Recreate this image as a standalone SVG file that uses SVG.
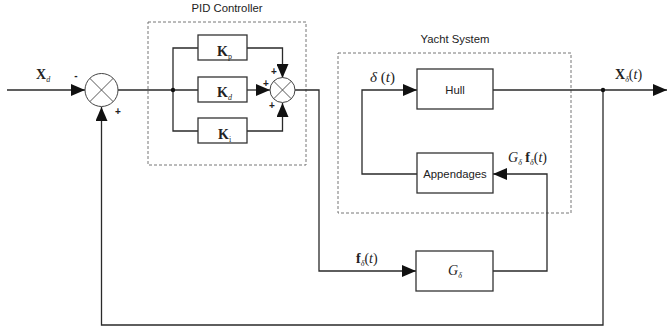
<svg xmlns="http://www.w3.org/2000/svg" width="667" height="331" viewBox="0 0 667 331">
<style>
.ln{fill:none;stroke:#2a2a2a;stroke-width:1.3}
.bx{fill:#fff;stroke:#333;stroke-width:1.3}
.dash{fill:none;stroke:#666;stroke-width:0.9;stroke-dasharray:3,2}
.sum{fill:#fff;stroke:#444;stroke-width:1}
.x{stroke:#444;stroke-width:0.9}
.t{font-family:"Liberation Sans",Arial,sans-serif;font-size:11.3px;fill:#222}
.m{font-family:"Liberation Serif","Times New Roman",serif;fill:#222}
.b{font-weight:bold}
.i{font-style:italic}
.sg{font-family:"Liberation Sans",Arial,sans-serif;font-size:10px;font-weight:bold;fill:#222}
</style>
<defs>
<marker id="ah" markerUnits="userSpaceOnUse" markerWidth="14" markerHeight="12" refX="14" refY="6" orient="auto">
<path d="M0,0 L14,6 L0,12 Z" fill="#111"/>
</marker>
</defs>
<g id="pid-frame">
<rect class="dash" x="148" y="22" width="158" height="143"/>
<text class="t" x="227" y="12" text-anchor="middle">PID Controller</text>
</g>
<g id="yacht-frame">
<rect class="dash" x="338" y="53" width="233" height="160"/>
<text class="t" x="455" y="43" text-anchor="middle">Yacht System</text>
</g>
<g id="connectors">
<line class="ln" x1="7" y1="90" x2="85" y2="90" marker-end="url(#ah)"/>
<line class="ln" x1="118" y1="90" x2="198" y2="90"/>
<polyline class="ln" points="198,48 173,48 173,131 198,131"/>
<polyline class="ln" points="247,48 282.5,48 282.5,78" marker-end="url(#ah)"/>
<line class="ln" x1="247" y1="90" x2="270" y2="90" marker-end="url(#ah)"/>
<polyline class="ln" points="247,131 282.5,131 282.5,103" marker-end="url(#ah)"/>
<polyline class="ln" points="295,90 319,90 319,271 416,271" marker-end="url(#ah)"/>
<polyline class="ln" points="493,271 547,271 547,174 493,174" marker-end="url(#ah)"/>
<polyline class="ln" points="417,174 362,174 362,90 417,90" marker-end="url(#ah)"/>
<line class="ln" x1="493" y1="90" x2="667" y2="90" marker-end="url(#ah)"/>
<polyline class="ln" points="603,90 603,325 101.5,325 101.5,107" marker-end="url(#ah)"/>
<circle cx="173" cy="90" r="2.2" fill="#111"/>
<circle cx="603" cy="90" r="2.2" fill="#111"/>
</g>
<g id="sum1">
<circle class="sum" cx="101.5" cy="90" r="16.5"/>
<line class="x" x1="89.8" y1="78.3" x2="113.2" y2="101.7"/>
<line class="x" x1="113.2" y1="78.3" x2="89.8" y2="101.7"/>
<text class="sg" x="76" y="79" text-anchor="middle">-</text>
<text class="sg" x="118" y="115" text-anchor="middle">+</text>
</g>
<g id="sum2">
<circle class="sum" cx="282.5" cy="90" r="12.5"/>
<line class="x" x1="273.7" y1="81.2" x2="291.3" y2="98.8"/>
<line class="x" x1="291.3" y1="81.2" x2="273.7" y2="98.8"/>
<text class="sg" x="274" y="75" text-anchor="middle">+</text>
<text class="sg" x="266" y="87" text-anchor="middle">+</text>
<text class="sg" x="272" y="109" text-anchor="middle">+</text>
</g>
<g id="kp">
<rect class="bx" x="198" y="35" width="49" height="25"/>
<text class="m" x="217" y="56" font-size="14"><tspan class="b">K</tspan><tspan font-size="8" dy="3">p</tspan></text>
</g>
<g id="kd">
<rect class="bx" x="198" y="77" width="49" height="25"/>
<text class="m" x="217" y="97" font-size="14"><tspan class="b">K</tspan><tspan font-size="8" dy="3" class="i">d</tspan></text>
</g>
<g id="ki">
<rect class="bx" x="198" y="118" width="49" height="25"/>
<text class="m" x="218" y="139" font-size="14"><tspan class="b">K</tspan><tspan font-size="8" dy="3">i</tspan></text>
</g>
<g id="hull">
<rect class="bx" x="417" y="69" width="76" height="40"/>
<text class="t" x="455" y="94" text-anchor="middle">Hull</text>
</g>
<g id="appendages">
<rect class="bx" x="417" y="153" width="76" height="40"/>
<text class="t" x="455" y="178" text-anchor="middle">Appendages</text>
</g>
<g id="gdelta">
<rect class="bx" x="416" y="251" width="77" height="40"/>
<text class="m i" x="448" y="275" font-size="14">G<tspan font-size="8" dy="3">δ</tspan></text>
</g>
<g id="labels">
<text class="m" x="36" y="79" font-size="14"><tspan class="b">X</tspan><tspan class="i" font-size="8" dy="3">d</tspan></text>
<text class="m" x="370" y="82" font-size="15"><tspan class="i">δ</tspan> (<tspan class="i">t</tspan>)</text>
<text class="m" x="508" y="162" font-size="14"><tspan class="i">G</tspan><tspan class="i" font-size="8" dy="3">δ</tspan><tspan dy="-3"> </tspan><tspan class="b">f</tspan><tspan class="i" font-size="8" dy="3">δ</tspan><tspan dy="-3">(</tspan><tspan class="i">t</tspan>)</text>
<text class="m" x="615" y="79" font-size="14"><tspan class="b">X</tspan><tspan class="i" font-size="8" dy="3">δ</tspan><tspan dy="-3">(</tspan><tspan class="i">t</tspan>)</text>
<text class="m" x="356" y="263" font-size="14"><tspan class="b">f</tspan><tspan class="i" font-size="8" dy="3">δ</tspan><tspan dy="-3">(</tspan><tspan class="i">t</tspan>)</text>
</g>
</svg>
